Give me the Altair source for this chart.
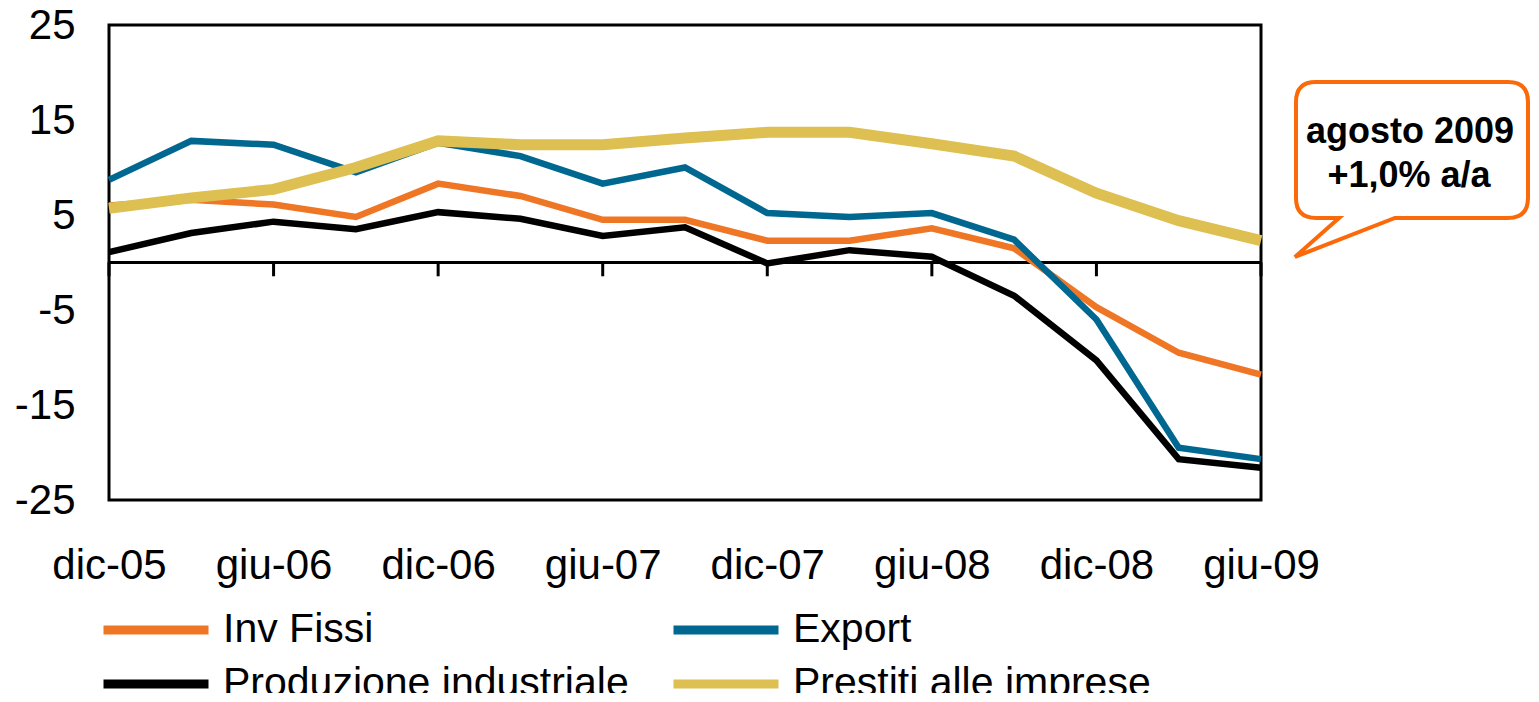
import altair as alt
import pandas as pd

# ---- data ----
categories = ["dic-05", "mar-06", "giu-06", "set-06", "dic-06", "mar-07", "giu-07", "set-07",
              "dic-07", "mar-08", "giu-08", "set-08", "dic-08", "mar-09", "giu-09"]
inv_fissi = [6.0, 6.6, 6.1, 4.8, 8.3, 7.0, 4.5, 4.5, 2.3, 2.3, 3.6, 1.5, -4.7, -9.5, -11.8]
export_vals = [8.7, 12.8, 12.4, 9.5, 12.6, 11.2, 8.3, 10.0, 5.2, 4.8, 5.2, 2.4, -6.0, -19.5, -20.7]
produzione = [1.1, 3.1, 4.3, 3.5, 5.3, 4.6, 2.8, 3.7, -0.1, 1.3, 0.6, -3.5, -10.3, -20.7, -21.6]
prestiti = [5.7, 6.8, 7.7, 10.0, 12.8, 12.4, 12.4, 13.1, 13.7, 13.7, 12.5, 11.2, 7.3, 4.4, 2.3]

series_names = ["Inv Fissi", "Export", "Produzione industriale", "Prestiti alle imprese"]
series_colors = ["#EF7624", "#006890", "#000000", "#DDBF52"]
# legend fills column by column: this order gives rows (Inv Fissi, Export), (Produzione, Prestiti)
legend_order = ["Inv Fissi", "Produzione industriale", "Export", "Prestiti alle imprese"]
tick_labels = ["dic-05", "giu-06", "dic-06", "giu-07", "dic-07", "giu-08", "dic-08", "giu-09"]
y_ticks = [-25, -15, -5, 5, 15, 25]
callout_lines = ["agosto 2009", "+1,0% a/a"]

rows = []
for name, vals in zip(series_names, [inv_fissi, export_vals, produzione, prestiti]):
    for c, v in zip(categories, vals):
        rows.append({"periodo": c, "serie": name, "valore": v})
df = pd.DataFrame(rows)
ticks_df = pd.DataFrame({"periodo": tick_labels})
one_df = pd.DataFrame({"k": [0]})

FONT = "Liberation Sans"
W, H = 1152, 475

x_enc = alt.X(
    "periodo:O", sort=categories,
    scale=alt.Scale(type="point", padding=0),
    axis=alt.Axis(values=tick_labels, title=None, domain=False, ticks=False, tickSize=0,
                  grid=False, labelAngle=0, labelAlign="center", labelFlush=False,
                  labelPadding=78, labelBaseline="alphabetic",
                  labelFontSize=42, labelFont=FONT, labelColor="black", labelOverlap=False),
)
y_enc = alt.Y(
    "valore:Q",
    scale=alt.Scale(domain=[-25, 25], nice=False, zero=False),
    axis=alt.Axis(values=y_ticks, title=None, domain=False, ticks=False, tickSize=0,
                  grid=False, labelPadding=34, labelFontSize=42, labelFont=FONT,
                  labelColor="black",
                  labelExpr="datum.value < 0 ? '-' + abs(datum.value) : '' + datum.value"),
)
color_map = dict(zip(series_names, series_colors))
color_enc = alt.Color(
    "serie:N",
    scale=alt.Scale(domain=legend_order, range=[color_map[n] for n in legend_order]),
    legend=alt.Legend(title=None, orient="none", legendX=-10, legendY=585, columns=2,
                      direction="vertical",
                      symbolType="stroke", symbolSize=11025, symbolStrokeWidth=9,
                      clipHeight=40,
                      labelFontSize=41, labelFont=FONT, labelColor="black", labelOffset=10,
                      columnPadding=40, rowPadding=13, padding=0, labelLimit=1000),
)


def line_layer(name, sw):
    return (alt.Chart(df).transform_filter(alt.datum.serie == name)
            .mark_line(strokeWidth=sw)
            .encode(x=x_enc, y=y_enc, color=color_enc))


zero_rule = alt.Chart(one_df).mark_rule(color="black", strokeWidth=3).encode(y=alt.datum(0))
tick_rules = (alt.Chart(ticks_df).mark_rule(color="black", strokeWidth=3)
              .encode(x=alt.X("periodo:O", sort=categories), y=alt.datum(0), y2=alt.datum(-1.45)))

bubble_path = ("M -0.828 -0.586 L 0.828 -0.586 Q 1 -0.586 1 -0.414 L 1 0.414 "
               "Q 1 0.586 0.828 0.586 L -0.147 0.586 L -1.009 0.922 L -0.629 0.586 "
               "L -0.828 0.586 Q -1 0.586 -1 0.414 L -1 -0.414 Q -1 -0.586 -0.828 -0.586 Z")
bubble = (alt.Chart(one_df)
          .mark_point(shape=bubble_path, size=232 * 232, filled=True, fill="white",
                      stroke="#FA6A0A", strokeWidth=4, opacity=1, fillOpacity=1, strokeOpacity=1)
          .encode(x=alt.value(1303), y=alt.value(125)))
text1 = (alt.Chart(one_df)
         .mark_text(font=FONT, fontWeight="bold", fontSize=36, align="center",
                    baseline="alphabetic", color="black")
         .encode(x=alt.value(1301), y=alt.value(118), text=alt.value(callout_lines[0])))
text2 = (alt.Chart(one_df)
         .mark_text(font=FONT, fontWeight="bold", fontSize=36, align="center",
                    baseline="alphabetic", color="black")
         .encode(x=alt.value(1300), y=alt.value(162), text=alt.value(callout_lines[1])))

chart = alt.layer(
    zero_rule, tick_rules,
    line_layer("Produzione industriale", 6.5),
    line_layer("Inv Fissi", 6.5),
    line_layer("Export", 6.5),
    line_layer("Prestiti alle imprese", 11),
    bubble, text1, text2,
).properties(
    width=W, height=H,
    padding={"left": 101, "top": 17, "right": 270, "bottom": 193},
    autosize=alt.AutoSizeParams(type="none"),
    background="white",
).configure_view(stroke="black", strokeWidth=3)

chart.save("out.html", embed_options={"renderer": "svg", "actions": False})
